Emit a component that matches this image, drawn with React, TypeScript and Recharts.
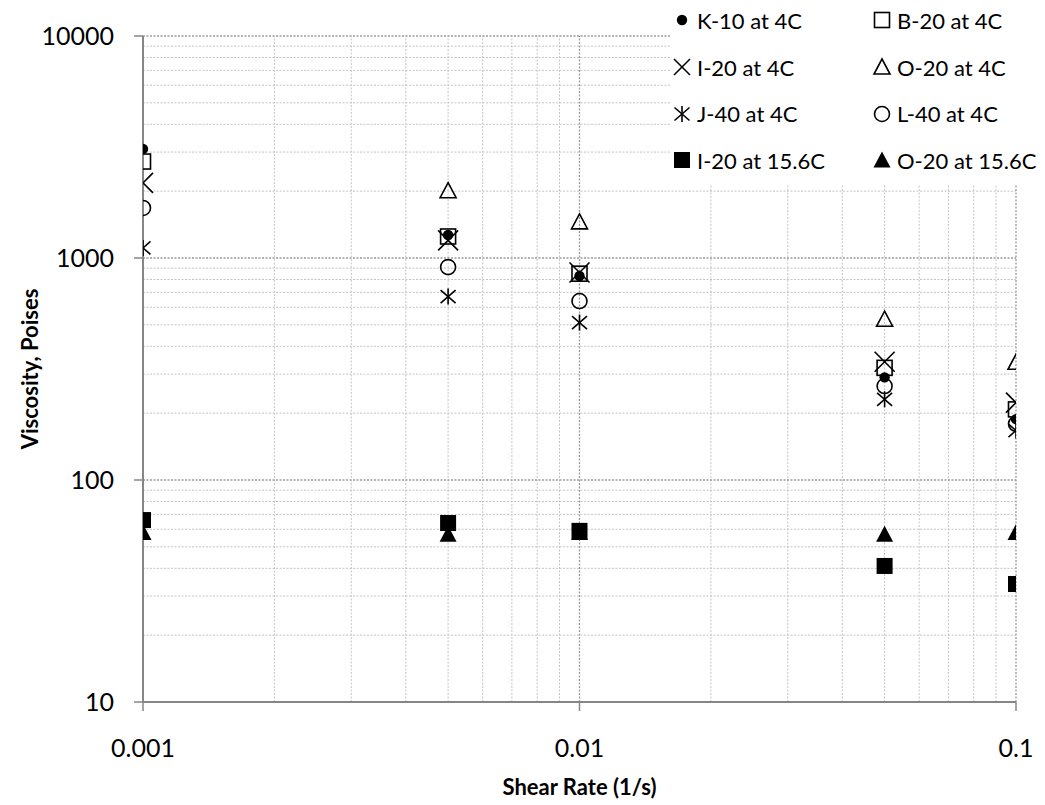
import React from 'react';
import { ScatterChart, Scatter, XAxis, YAxis, ReferenceLine } from 'recharts';

const shearRates = [0.001, 0.005, 0.01, 0.05, 0.1];
const k10At4 = [3100, 1270, 830, 290, 188];
const b20At4 = [2720, 1250, 850, 320, 208];
const i20At4 = [2180, 1200, 860, 341, 223];
const o20At4 = [null, 2010, 1455, 530, 339];
const j40At4 = [1110, 670, 512, 231, 167];
const l40At4 = [1680, 910, 640, 265, 179];
const i20At156 = [66, 64, 59, 41, 34];
const o20At156 = [58, 57, 58, 57, 58];

const xTicks = [0.001, 0.01, 0.1];
const yTicks = [10, 100, 1000, 10000];
const xMinor = [0.002, 0.003, 0.004, 0.005, 0.006, 0.007, 0.008, 0.009, 0.02, 0.03, 0.04, 0.05, 0.06, 0.07, 0.08, 0.09];
const yMinor = [20, 30, 40, 50, 60, 70, 80, 90, 200, 300, 400, 500, 600, 700, 800, 900, 2000, 3000, 4000, 5000, 6000, 7000, 8000, 9000];
const xMajor = [0.01, 0.1];
const yMajor = [100, 1000, 10000];

type MarkerType = 'dot' | 'square' | 'x' | 'triangle' | 'star' | 'circle' | 'fsquare' | 'ftriangle';

const series: { name: string; values: (number | null)[]; marker: MarkerType }[] = [
  { name: 'K-10 at 4C', values: k10At4, marker: 'dot' },
  { name: 'B-20 at 4C', values: b20At4, marker: 'square' },
  { name: 'I-20 at 4C', values: i20At4, marker: 'x' },
  { name: 'O-20 at 4C', values: o20At4, marker: 'triangle' },
  { name: 'J-40 at 4C', values: j40At4, marker: 'star' },
  { name: 'L-40 at 4C', values: l40At4, marker: 'circle' },
  { name: 'I-20 at 15.6C', values: i20At156, marker: 'fsquare' },
  { name: 'O-20 at 15.6C', values: o20At156, marker: 'ftriangle' },
];

const SW = 1.6;

function markerEl(type: MarkerType, cx: number, cy: number, s = 1) {
  switch (type) {
    case 'dot':
      return <circle cx={cx} cy={cy} r={5.2 * s} fill="#000" />;
    case 'square':
      return <rect x={cx - 7.5 * s} y={cy - 7.5 * s} width={15 * s} height={15 * s} fill="none" stroke="#000" strokeWidth={SW} />;
    case 'x':
      return (
        <g stroke="#000" strokeWidth={SW}>
          <line x1={cx - 10 * s} y1={cy - 10 * s} x2={cx + 10 * s} y2={cy + 10 * s} />
          <line x1={cx - 10 * s} y1={cy + 10 * s} x2={cx + 10 * s} y2={cy - 10 * s} />
        </g>
      );
    case 'triangle':
      return (
        <polygon
          points={`${cx},${cy - 8 * s} ${cx + 8 * s},${cy + 7 * s} ${cx - 8 * s},${cy + 7 * s}`}
          fill="none"
          stroke="#000"
          strokeWidth={SW}
        />
      );
    case 'star':
      return (
        <g stroke="#000" strokeWidth={SW}>
          <line x1={cx - 7.5 * s} y1={cy - 6.5 * s} x2={cx + 7.5 * s} y2={cy + 6.5 * s} />
          <line x1={cx - 7.5 * s} y1={cy + 6.5 * s} x2={cx + 7.5 * s} y2={cy - 6.5 * s} />
          <line x1={cx} y1={cy - 8 * s} x2={cx} y2={cy + 8 * s} />
        </g>
      );
    case 'circle':
      return <circle cx={cx} cy={cy} r={7.5 * s} fill="none" stroke="#000" strokeWidth={SW} />;
    case 'fsquare':
      return <rect x={cx - 8 * s} y={cy - 8 * s} width={16 * s} height={16 * s} fill="#000" />;
    case 'ftriangle':
      return (
        <polygon
          points={`${cx},${cy - 8.5 * s} ${cx + 8.5 * s},${cy + 7.5 * s} ${cx - 8.5 * s},${cy + 7.5 * s}`}
          fill="#000"
        />
      );
  }
  return null;
}

const FONT = 'Lato, "Open Sans", "Liberation Sans", sans-serif';

const LegendBox = () => (
  <div
    style={{
      position: 'absolute',
      left: 662,
      top: -11,
      width: 383,
      height: 187,
      background: '#fff',
      display: 'grid',
      gridTemplateColumns: '200px 183px',
      gridAutoRows: '46.7px',
      paddingLeft: 3,
      boxSizing: 'border-box',
      fontFamily: FONT,
      fontSize: 22,
      color: '#000',
    }}
  >
    {series.map((s) => (
      <div key={s.name} style={{ display: 'flex', alignItems: 'center', whiteSpace: 'nowrap' }}>
        <svg width={18} height={18} style={{ overflow: 'visible' }}>
          {markerEl(s.marker, 9, 9, s.marker === 'x' ? 0.8 : 1)}
        </svg>
        <span style={{ marginLeft: 6 }}>{s.name}</span>
      </div>
    ))}
  </div>
);

export default function App() {
  const gridStrokeMinor = '#c4c4c4';
  const gridStrokeMajor = '#9a9a9a';
  return (
    <div style={{ fontFamily: FONT, position: 'relative', width: 1037, height: 797 }}>
      <ScatterChart width={1037} height={797} margin={{ top: 28, right: 29, bottom: 8, left: 0 }}>
        <XAxis
          type="number"
          dataKey="x"
          scale="log"
          domain={[0.001, 0.1]}
          ticks={xTicks}
          allowDataOverflow
          tickFormatter={(v: number) => String(v)}
          axisLine={{ stroke: '#868686', strokeWidth: 2 }}
          tickLine={{ stroke: '#868686', strokeWidth: 1.5 }}
          tickSize={9}
          tickMargin={28}
          height={95}
          tick={{ fill: '#000', fontSize: 25, fontFamily: FONT }}
          label={{
            value: 'Shear Rate (1/s)',
            position: 'insideBottom',
            offset: 2,
            style: { fontWeight: 700, fontSize: 22, fill: '#000', fontFamily: FONT },
          }}
        />
        <YAxis
          type="number"
          dataKey="y"
          scale="log"
          domain={[10, 10000]}
          ticks={yTicks}
          allowDataOverflow
          width={135}
          axisLine={{ stroke: '#868686', strokeWidth: 2 }}
          tickLine={{ stroke: '#868686', strokeWidth: 1.5 }}
          tickSize={9}
          tickMargin={20}
          tick={{ fill: '#000', fontSize: 25, fontFamily: FONT }}
          label={{
            value: 'Viscosity, Poises',
            angle: -90,
            position: 'insideLeft',
            offset: 22,
            style: { textAnchor: 'middle', fontWeight: 700, fontSize: 22, fill: '#000', fontFamily: FONT },
          }}
        />
        {yMinor.map((v) => (
          <ReferenceLine key={'ym' + v} y={v} stroke={gridStrokeMinor} strokeWidth={1} strokeDasharray="2 1.5" />
        ))}
        {xMinor.map((v) => (
          <ReferenceLine key={'xm' + v} x={v} stroke={gridStrokeMinor} strokeWidth={1} strokeDasharray="2 1.5" />
        ))}
        {yMajor.map((v) => (
          <ReferenceLine key={'yM' + v} y={v} stroke={gridStrokeMajor} strokeWidth={1.3} strokeDasharray="2 1.5" />
        ))}
        {xMajor.map((v) => (
          <ReferenceLine key={'xM' + v} x={v} stroke={gridStrokeMajor} strokeWidth={1.3} strokeDasharray="2 1.5" />
        ))}
        {series.map((s) => (
          <Scatter
            key={s.name}
            name={s.name}
            isAnimationActive={false}
            data={shearRates
              .map((x, i) => ({ x, y: s.values[i] }))
              .filter((d) => d.y !== null)}
            shape={(p: any) => markerEl(s.marker, p.cx, p.cy)}
          />
        ))}
      </ScatterChart>
      <LegendBox />
    </div>
  );
}
